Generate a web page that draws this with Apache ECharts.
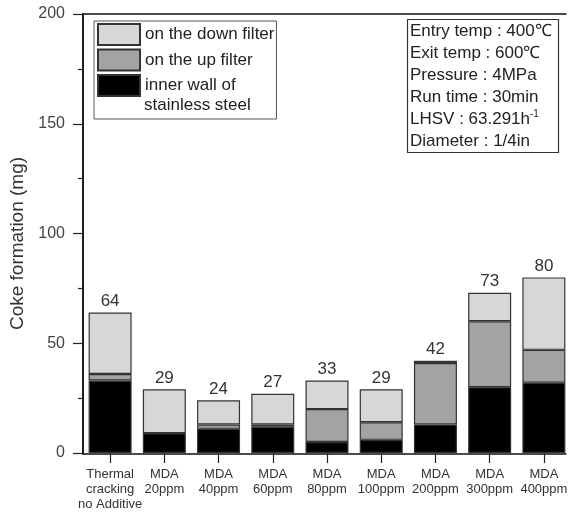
<!DOCTYPE html>
<html>
<head>
<meta charset="utf-8">
<script src="https://cdn.jsdelivr.net/npm/echarts@6/dist/echarts.min.js"></script>
<style>
  html, body { margin: 0; padding: 0; background: #fff; }
  #chart { width: 571px; height: 512px; }
</style>
</head>
<body>
<div id="chart"></div>
<script>
// Coke formation by deposit location, per additive condition
const categories = [
  'Thermal\ncracking\nno Additive', 'MDA\n20ppm', 'MDA\n40ppm', 'MDA\n60ppm', 'MDA\n80ppm',
  'MDA\n100ppm', 'MDA\n200ppm', 'MDA\n300ppm', 'MDA\n400ppm'
];
const innerWall  = [33, 9, 11, 12, 5, 6, 13, 30, 32];
const upFilter   = [3, 0, 2, 1, 15, 8, 28, 30, 15];
const downFilter = [28, 20, 11, 14, 13, 15, 1, 13, 33];
const totals = [64, 29, 24, 27, 33, 29, 42, 73, 80];
const yTicks = [0, 50, 100, 150, 200];
const conditions = [
  'Entry temp : 400\u2103',
  'Exit temp : 600\u2103',
  'Pressure : 4MPa',
  'Run time : 30min',
  'LHSV : 63.291h{sup|-1}',
  'Diameter : 1/4in'
];

const FONT = 'Liberation Sans, Arial, sans-serif';
const chart = echarts.init(document.getElementById('chart'));

const barBase = { type: 'bar', stack: 'coke', barWidth: 43, xAxisIndex: 0, yAxisIndex: 0 };
const border = { borderColor: '#333', borderWidth: 1.2 };
const lineOnly = {
  axisTick: { show: false }, axisLabel: { show: false }, splitLine: { show: false }
};
const frameLine = { show: true, lineStyle: { color: '#111', width: 1.5 } };

chart.setOption({
  animation: false,
  textStyle: { fontFamily: FONT },
  grid: [
    // data grid: category bands
    { left: 83, right: 0, top: 14, bottom: 58 },
    // frame grid: closed box ending at the right border
    { left: 83, right: 5, top: 14, bottom: 58 }
  ],
  title: {
    left: 407, top: 19,
    padding: [1, 7, 1, 3],
    borderColor: '#333', borderWidth: 1.2,
    text: conditions.join('\n'),
    textStyle: {
      fontFamily: FONT, fontSize: 17, fontWeight: 'normal', color: '#222', lineHeight: 22,
      rich: { sup: { fontFamily: FONT, fontSize: 10, color: '#222', padding: [0, 0, 9, 0] } }
    }
  },
  legend: {
    orient: 'vertical',
    left: 94, top: 21,
    padding: [2, 2, 22, 3],
    itemWidth: 42, itemHeight: 21, itemGap: 2.5,
    icon: 'rect',
    borderColor: '#555', borderWidth: 1,
    selectedMode: false,
    textStyle: { fontFamily: FONT, fontSize: 17, color: '#222' },
    data: ['on the down filter', 'on the up filter', 'inner wall of']
  },
  graphic: [{
    type: 'text', left: 144, top: 97,
    style: { text: 'stainless steel', font: '17px ' + FONT, fill: '#222' }
  }],
  xAxis: [{
    type: 'category', gridIndex: 0, position: 'bottom',
    data: categories,
    axisLine: { show: false },
    axisTick: { show: true, inside: false, alignWithLabel: true, length: 10, lineStyle: { color: '#222', width: 1.2 } },
    axisLabel: { margin: 14, fontSize: 13, lineHeight: 15, color: '#333', fontFamily: FONT, interval: 0 },
    splitLine: { show: false }
  }, Object.assign({
    type: 'value', gridIndex: 1, position: 'bottom', min: 0, max: 1, axisLine: frameLine
  }, lineOnly), Object.assign({
    type: 'value', gridIndex: 1, position: 'top', min: 0, max: 1, axisLine: frameLine
  }, lineOnly)],
  yAxis: [{
    type: 'value', gridIndex: 0, position: 'left',
    min: yTicks[0], max: yTicks[yTicks.length - 1], interval: 50,
    name: 'Coke formation (mg)', nameLocation: 'middle', nameGap: 56,
    nameTextStyle: { fontFamily: FONT, fontSize: 19, color: '#333', padding: [0, 20, 0, 0] },
    axisLine: { show: true, lineStyle: { color: '#111', width: 1.5 } },
    axisTick: { show: true, inside: false, length: 10, lineStyle: { color: '#222', width: 1.2 } },
    minorTick: { show: true, splitNumber: 2, length: 5, lineStyle: { color: '#222', width: 1.2 } },
    axisLabel: { margin: 18, fontSize: 16, color: '#444', fontFamily: FONT },
    splitLine: { show: false }
  }, Object.assign({
    type: 'value', gridIndex: 1, position: 'right', min: 0, max: 1, axisLine: frameLine
  }, lineOnly)],
  series: [
    Object.assign({}, barBase, {
      name: 'inner wall of',
      data: innerWall,
      itemStyle: Object.assign({ color: '#000000' }, border)
    }),
    Object.assign({}, barBase, {
      name: 'on the up filter',
      data: upFilter,
      itemStyle: Object.assign({ color: '#a3a3a3' }, border)
    }),
    Object.assign({}, barBase, {
      name: 'on the down filter',
      data: downFilter,
      itemStyle: Object.assign({ color: '#d7d7d7' }, border),
      label: {
        show: true, position: 'top', distance: 3,
        fontSize: 17, color: '#333', fontFamily: FONT,
        formatter: p => String(totals[p.dataIndex])
      }
    })
  ]
});
</script>
</body>
</html>
